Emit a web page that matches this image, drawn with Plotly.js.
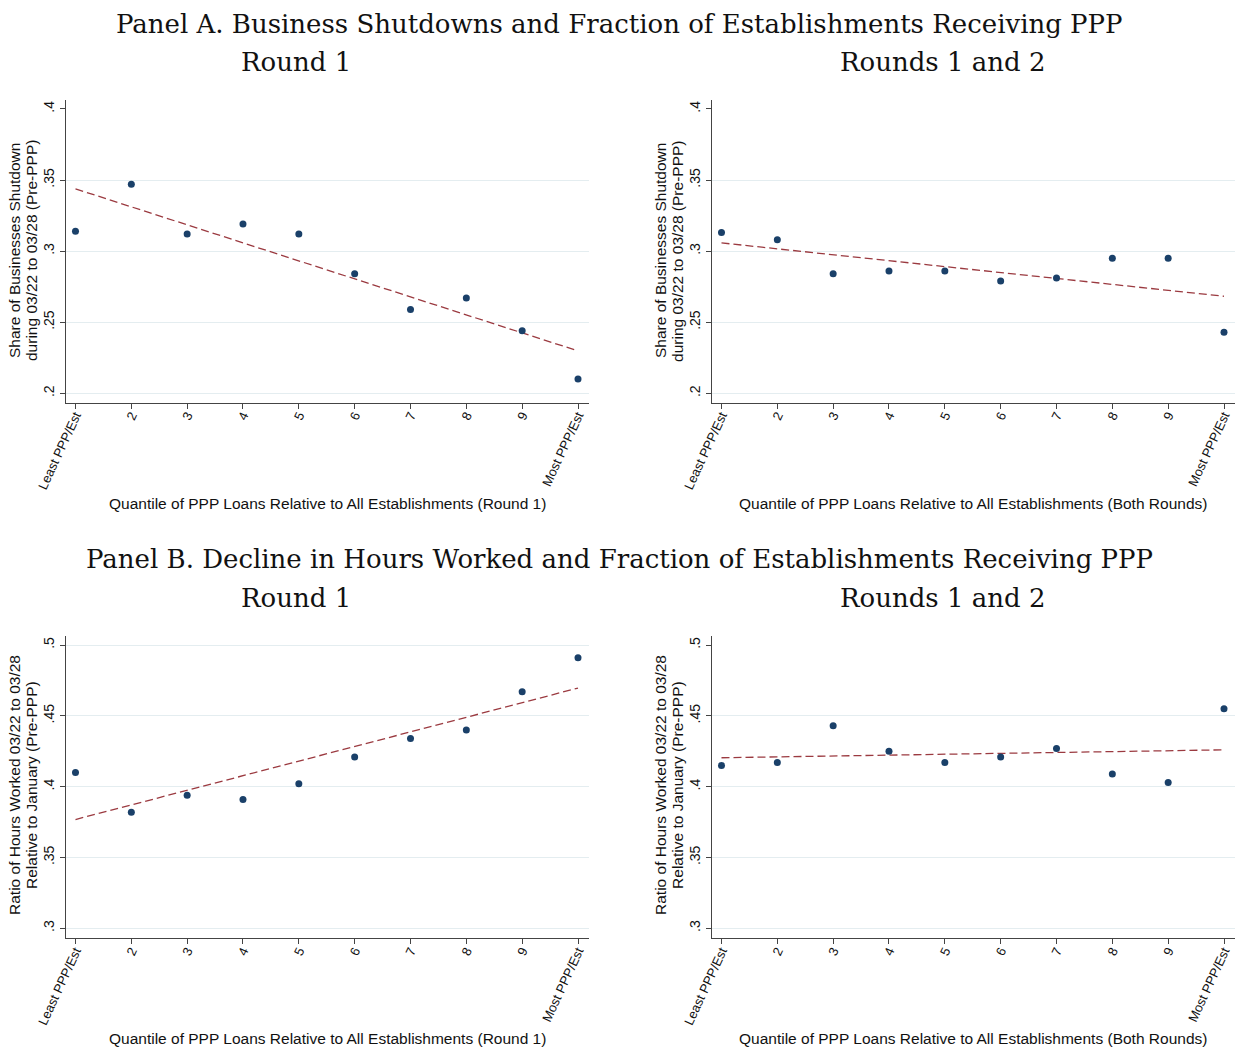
<!DOCTYPE html>
<html>
<head>
<meta charset="utf-8">
<script src="https://cdn.plot.ly/plotly-3.0.1.min.js"></script>
<style>html,body{margin:0;padding:0;background:#fff;}#chart{width:1236px;height:1048px;}</style>
</head>
<body>
<div id="chart"></div>
<script>
// ---- data ----
const quantiles = [1, 2, 3, 4, 5, 6, 7, 8, 9, 10];
const quantileLabels = ['Least PPP/Est', '2', '3', '4', '5', '6', '7', '8', '9', 'Most PPP/Est'];
const shutdownRound1 = [0.314, 0.347, 0.312, 0.319, 0.312, 0.284, 0.259, 0.267, 0.244, 0.210];
const shutdownBothRounds = [0.313, 0.308, 0.284, 0.286, 0.286, 0.279, 0.281, 0.295, 0.295, 0.243];
const hoursRound1 = [0.410, 0.382, 0.394, 0.391, 0.402, 0.421, 0.434, 0.440, 0.467, 0.491];
const hoursBothRounds = [0.415, 0.417, 0.443, 0.425, 0.417, 0.421, 0.427, 0.409, 0.403, 0.455];
const shutdownTicks = [0.2, 0.25, 0.3, 0.35, 0.4];
const shutdownTickText = ['.2', '.25', '.3', '.35', '.4'];
const hoursTicks = [0.3, 0.35, 0.4, 0.45, 0.5];
const hoursTickText = ['.3', '.35', '.4', '.45', '.5'];

// OLS linear fit evaluated at first and last quantile
function fitLine(xs, ys) {
  const n = xs.length;
  const mx = xs.reduce((a, b) => a + b, 0) / n;
  const my = ys.reduce((a, b) => a + b, 0) / n;
  let sxy = 0, sxx = 0;
  for (let i = 0; i < n; i++) { sxy += (xs[i] - mx) * (ys[i] - my); sxx += (xs[i] - mx) ** 2; }
  const b = sxy / sxx, a = my - b * mx;
  const ends = [xs[0], xs[n - 1]];
  return { x: ends, y: ends.map(v => a + b * v) };
}

const SANS = 'Liberation Sans, Arial, sans-serif';
const SERIF = 'DejaVu Serif, serif';
const navy = '#1a4069';
const maroon = '#9b3a40';
const gridColor = '#e4edf0';
const axisColor = '#444444';

const panels = [
  { ys: shutdownRound1, n: 1 },
  { ys: shutdownBothRounds, n: 2 },
  { ys: hoursRound1, n: 3 },
  { ys: hoursBothRounds, n: 4 }
];

const traces = [];
panels.forEach(p => {
  const xa = p.n === 1 ? 'x' : 'x' + p.n;
  const yg = p.n === 1 ? 'y' : 'y' + p.n;
  const ya = 'y' + (p.n + 4);
  // empty trace so the grid subplot exists
  traces.push({ x: [], y: [], type: 'scatter', mode: 'markers', xaxis: xa, yaxis: yg, hoverinfo: 'skip' });
  const f = fitLine(quantiles, p.ys);
  traces.push({
    x: f.x, y: f.y, type: 'scatter', mode: 'lines', xaxis: xa, yaxis: ya,
    line: { color: maroon, width: 1.3, dash: '8px,4px' }, hoverinfo: 'skip'
  });
  traces.push({
    x: quantiles, y: p.ys, type: 'scatter', mode: 'markers', xaxis: xa, yaxis: ya,
    marker: { color: navy, size: 7 }
  });
});

const xDomL = [66 / 1236, 589 / 1236];
const xDomR = [712 / 1236, 1235 / 1236];
const yDomA = [0.6158, 0.9046];
const yDomB = [0.1047, 0.3934];
const xRange = [0.83, 10.197];
const yRangeA = [0.1934, 0.4063];
const yRangeB = [0.2929, 0.5066];

function xAxis(domain, anchor) {
  return {
    domain: domain, range: xRange, anchor: anchor, fixedrange: true,
    tickmode: 'array', tickvals: quantiles, ticktext: quantileLabels,
    tickangle: -65, ticks: 'outside', ticklen: 5, tickwidth: 1, tickcolor: axisColor,
    ticklabelstandoff: -6,
    showline: true, linecolor: axisColor, linewidth: 1.2, showgrid: false, zeroline: false,
    tickfont: { family: SANS, size: 13, color: '#111' }
  };
}
function gridAxis(domain, range, anchor, gridVals) {
  return {
    domain: domain, range: range, anchor: anchor, fixedrange: true,
    tickmode: 'array', tickvals: gridVals, showticklabels: false, ticks: '',
    showline: false, showgrid: true, gridcolor: gridColor, gridwidth: 1, zeroline: false
  };
}
function labelAxis(over, domain, range, anchor, vals, text) {
  return {
    overlaying: over, domain: domain, range: range, anchor: anchor, side: 'left', fixedrange: true,
    tickmode: 'array', tickvals: vals, ticktext: text, tickangle: -90,
    ticks: 'outside', ticklen: 5, tickwidth: 1, tickcolor: axisColor,
    showline: true, linecolor: axisColor, linewidth: 1.2, showgrid: false, zeroline: false,
    tickfont: { family: SANS, size: 14, color: '#111' }
  };
}

function ann(text, x, y, size, family, extra) {
  return Object.assign({
    text: text, xref: 'paper', yref: 'paper', x: x, y: y, xanchor: 'center', yanchor: 'middle',
    showarrow: false, font: { family: family, size: size, color: '#111' }
  }, extra || {});
}

const shutdownTitle = ['Share of Businesses Shutdown', 'during 03/22 to 03/28 (Pre-PPP)'];
const hoursTitle = ['Ratio of Hours Worked 03/22 to 03/28', 'Relative to January (Pre-PPP)'];
const xTitleR1 = 'Quantile of PPP Loans Relative to All Establishments (Round 1)';
const xTitleBoth = 'Quantile of PPP Loans Relative to All Establishments (Both Rounds)';

const yTitleAnns = [];
[[shutdownTitle, 0.7605], [hoursTitle, 0.2510]].forEach(([lines, yc]) => {
  [[0.01214, 0.02589], [0.5348, 0.5485]].forEach(xs => {
    lines.forEach((t, i) => yTitleAnns.push(ann(t, xs[i], yc, 15.5, SANS, { textangle: -90 })));
  });
});

const layout = {
  width: 1236, height: 1048, margin: { l: 0, r: 0, t: 0, b: 0 },
  paper_bgcolor: '#ffffff', plot_bgcolor: '#ffffff', showlegend: false,
  xaxis: xAxis(xDomL, 'y5'),
  xaxis2: xAxis(xDomR, 'y6'),
  xaxis3: xAxis(xDomL, 'y7'),
  xaxis4: xAxis(xDomR, 'y8'),
  yaxis: gridAxis(yDomA, yRangeA, 'x', [0.2, 0.25, 0.3, 0.35]),
  yaxis2: gridAxis(yDomA, yRangeA, 'x2', [0.2, 0.25, 0.3, 0.35]),
  yaxis3: gridAxis(yDomB, yRangeB, 'x3', [0.3, 0.35, 0.4, 0.45, 0.5]),
  yaxis4: gridAxis(yDomB, yRangeB, 'x4', [0.3, 0.35, 0.4, 0.45]),
  yaxis5: labelAxis('y', yDomA, yRangeA, 'x', shutdownTicks, shutdownTickText),
  yaxis6: labelAxis('y2', yDomA, yRangeA, 'x2', shutdownTicks, shutdownTickText),
  yaxis7: labelAxis('y3', yDomB, yRangeB, 'x3', hoursTicks, hoursTickText),
  yaxis8: labelAxis('y4', yDomB, yRangeB, 'x4', hoursTicks, hoursTickText),
  annotations: [
    ann('Panel A. Business Shutdowns and Fraction of Establishments Receiving PPP', 0.5016, 0.9771, 26, SERIF),
    ann('Round 1', 0.2395, 0.9408, 26, SERIF),
    ann('Rounds 1 and 2', 0.7629, 0.9408, 26, SERIF),
    ann('Panel B. Decline in Hours Worked and Fraction of Establishments Receiving PPP', 0.5016, 0.4666, 26, SERIF),
    ann('Round 1', 0.2395, 0.4294, 26, SERIF),
    ann('Rounds 1 and 2', 0.7629, 0.4294, 26, SERIF),
    ann(xTitleR1, 0.2646, 0.5200, 15.5, SANS),
    ann(xTitleBoth, 0.7872, 0.5200, 15.5, SANS),
    ann(xTitleR1, 0.2646, 0.0095, 15.5, SANS),
    ann(xTitleBoth, 0.7872, 0.0095, 15.5, SANS)
  ].concat(yTitleAnns)
};

Plotly.newPlot('chart', traces, layout, { staticPlot: true, displayModeBar: false });
</script>
</body>
</html>
